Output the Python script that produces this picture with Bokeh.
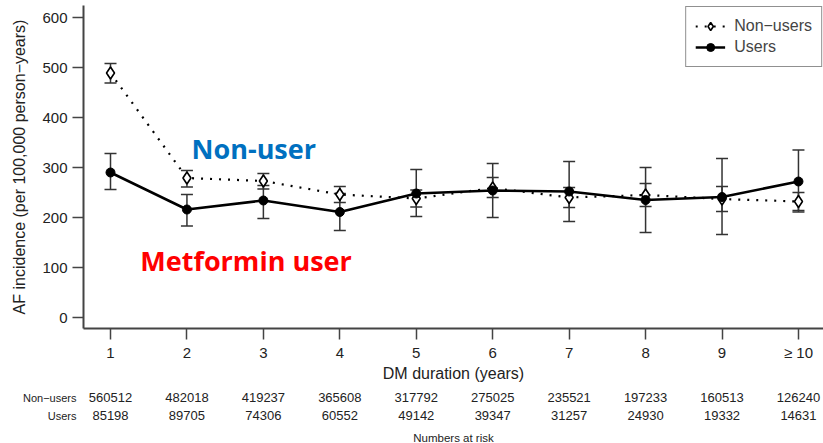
from bokeh.plotting import figure
from bokeh.models import (ColumnDataSource, Range1d, Whisker, TeeHead, Legend, LegendItem,
                          Label, FixedTicker)
from bokeh.layouts import column
from bokeh.core.properties import value
from bokeh.embed import file_html
from bokeh.resources import INLINE

# ---------------- data ----------------
durations = [1, 2, 3, 4, 5, 6, 7, 8, 9, 10]
tick_labels = ["1", "2", "3", "4", "5", "6", "7", "8", "9", "\u2265 10"]

nonusers_rate = [489, 279, 273, 246, 238, 259, 240, 245, 237, 232]
nonusers_lo = [469, 261, 257, 230, 221, 240, 220, 222, 212, 214]
nonusers_hi = [508, 294, 288, 262, 255, 280, 260, 268, 262, 250]

users_rate = [290, 216, 234, 211, 248, 254, 252, 235, 241, 272]
users_lo = [256, 183, 198, 174, 202, 200, 192, 170, 166, 211]
users_hi = [328, 246, 264, 248, 296, 308, 312, 300, 318, 335]

risk_nonusers = ["560512", "482018", "419237", "365608", "317792",
                 "275025", "235521", "197233", "160513", "126240"]
risk_users = ["85198", "89705", "74306", "60552", "49142",
              "39347", "31257", "24930", "19332", "14631"]
risk_rows = ["Non\u2212users", "Users"]

# ---------------- layout constants ----------------
W, H = 823, 443
TOP_H = 385
BOT_H = H - TOP_H
FL, FB = 83, 328          # frame left / frame bottom in canvas pixels
FONT = "Liberation Sans"
AXC = "#444444"
TXT = "#222222"
px_per_unit = 76.44
x_end = 1 + (W - 110) / px_per_unit
x_start = 1 - (110 - FL) / px_per_unit
xr = Range1d(x_start, x_end)

nu = ColumnDataSource(dict(x=durations, y=nonusers_rate, lo=nonusers_lo, hi=nonusers_hi))
us = ColumnDataSource(dict(x=durations, y=users_rate, lo=users_lo, hi=users_hi))

p = figure(width=W, height=TOP_H, output_backend="svg", toolbar_location=None,
           x_range=xr, y_range=Range1d(-22, 624),
           min_border_left=FL, min_border_right=0, min_border_top=5,
           min_border_bottom=TOP_H - FB)
p.outline_line_color = None
p.xgrid.visible = False
p.ygrid.visible = False
p.background_fill_color = "white"
p.border_fill_color = "white"

# axes
p.xaxis.ticker = FixedTicker(ticks=durations)
p.xaxis.major_label_overrides = {d: t for d, t in zip(durations, tick_labels)}
p.yaxis.ticker = FixedTicker(ticks=[0, 100, 200, 300, 400, 500, 600])
p.xaxis.axis_label = "DM duration (years)"
p.yaxis.axis_label = "AF incidence (per 100,000 person\u2212years)"
for ax in (p.xaxis[0], p.yaxis[0]):
    ax.axis_line_color = AXC
    ax.axis_line_width = 2
    ax.major_tick_line_color = AXC
    ax.major_tick_line_width = 1.5
    ax.major_tick_out = 11
    ax.major_tick_in = 0
    ax.minor_tick_line_color = None
    ax.major_label_text_font = FONT
    ax.major_label_text_font_size = "15px"
    ax.major_label_text_color = TXT
    ax.axis_label_text_font = FONT
    ax.axis_label_text_font_size = "16px"
    ax.axis_label_text_font_style = "normal"
    ax.axis_label_text_color = TXT
p.yaxis.major_label_standoff = 5
p.yaxis.axis_label_standoff = 11
p.xaxis.major_label_standoff = 4
p.xaxis.axis_label_standoff = 1

# error bars
for src in (nu, us):
    w = Whisker(source=src, base="x", lower="lo", upper="hi", line_color="#333333",
                line_width=1.5,
                lower_head=TeeHead(size=12, line_color="#333333", line_width=1.5),
                upper_head=TeeHead(size=12, line_color="#333333", line_width=1.5))
    p.add_layout(w)

# lines & markers
nu_line = p.line("x", "y", source=nu, line_color="black", line_width=2.2, line_dash="2 7")
us_line = p.line("x", "y", source=us, line_color="black", line_width=2.5)
nu_pts = p.scatter("x", "y", source=nu, marker="diamond", size=12, fill_color="white",
                   line_color="black", line_width=1.6)
us_pts = p.scatter("x", "y", source=us, marker="circle", size=9, fill_color="black",
                   line_color="black")

legend = Legend(items=[LegendItem(label="Non\u2212users", renderers=[nu_line, nu_pts]),
                       LegendItem(label="Users", renderers=[us_line, us_pts])],
                location="top_right", margin=1, padding=9, spacing=1,
                label_text_font=FONT, label_text_font_size="16px",
                label_standoff=9, glyph_width=30,
                border_line_color="#222222", border_line_width=1.2,
                background_fill_color="white", background_fill_alpha=1)
p.add_layout(legend)

p.add_layout(Label(x=2.06, y=338, text="Non-user", text_font="Open Sans",
                   text_font_size="27px", text_font_style="bold", text_color="#0070C0",
                   text_baseline="alphabetic"))
p.add_layout(Label(x=1.39, y=114, text="Metformin user", text_font="Open Sans",
                   text_font_size="27px", text_font_style="bold", text_color="#FF0000",
                   text_baseline="alphabetic"))

# ---------------- risk table (second figure sharing the x range) ----------------
ROW_Y = [12, 30]
q = figure(width=W, height=BOT_H, output_backend="svg", toolbar_location=None,
           x_range=xr, y_range=Range1d(BOT_H, 0),
           min_border_left=FL, min_border_right=0, min_border_top=0, min_border_bottom=0)
q.xaxis.visible = False
q.grid.visible = False
q.outline_line_color = None
q.background_fill_color = "white"
q.border_fill_color = "white"
q.yaxis.ticker = FixedTicker(ticks=ROW_Y)
q.yaxis.major_label_overrides = {y: t for y, t in zip(ROW_Y, risk_rows)}
q.yaxis.axis_line_color = None
q.yaxis.major_tick_line_color = None
q.yaxis.minor_tick_line_color = None
q.yaxis.major_tick_out = 0
q.yaxis.major_tick_in = 0
q.yaxis.major_label_text_font = FONT
q.yaxis.major_label_text_font_size = "11px"
q.yaxis.major_label_text_color = TXT
q.yaxis.major_label_text_align = "center"
q.yaxis.major_label_standoff = 7

for vals, yy in ((risk_nonusers, ROW_Y[0]), (risk_users, ROW_Y[1])):
    q.text(x=durations, y=[yy] * len(durations), text=vals,
           text_font=value(FONT), text_font_size=value("13px"), text_align="center",
           text_baseline="middle", text_color=TXT)
q.add_layout(Label(x=453 - FL, y=BOT_H - 52, x_units="screen", y_units="screen",
                   text="Numbers at risk", text_font=FONT, text_font_size="11.5px",
                   text_color=TXT, text_align="center", text_baseline="middle"))

open("out.html", "w").write(file_html(column(p, q, spacing=0), INLINE))
